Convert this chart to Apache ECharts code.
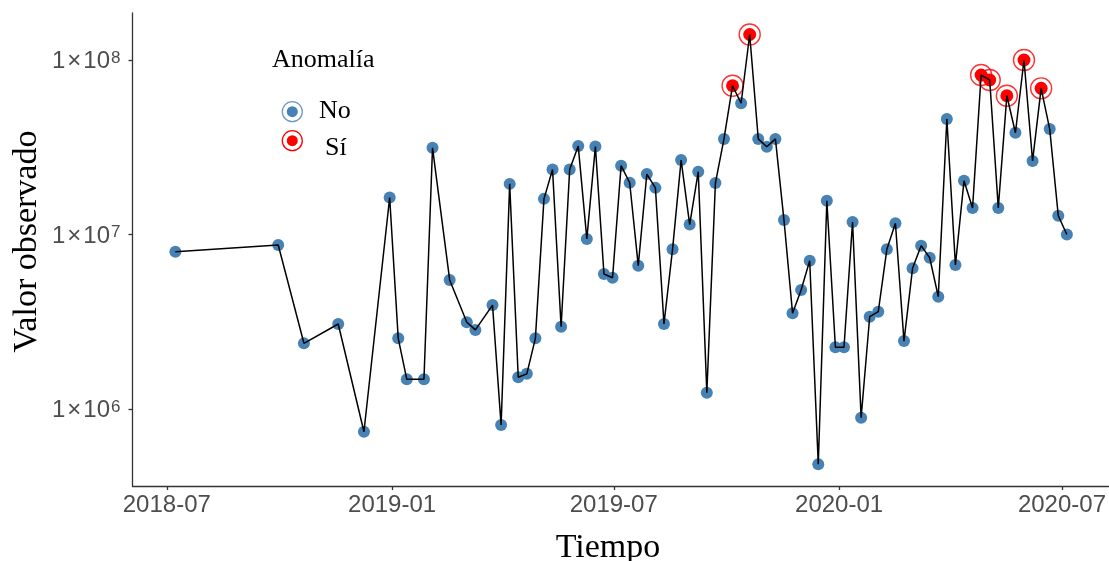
<!DOCTYPE html>
<html>
<head>
<meta charset="utf-8">
<script src="https://cdn.jsdelivr.net/npm/echarts@6/dist/echarts.min.js"></script>
<style>html,body{margin:0;padding:0;background:#fff;}#c{width:1109px;height:561px;}</style>
</head>
<body>
<div id="c"></div>
<script>
// ---- data ----
const dates = [
  '2018-07-08','2018-09-30','2018-10-21','2018-11-18','2018-12-09','2018-12-30',
  '2019-01-06','2019-01-13','2019-01-27','2019-02-03','2019-02-17','2019-03-03','2019-03-10',
  '2019-03-24','2019-03-31','2019-04-07','2019-04-14','2019-04-21','2019-04-28',
  '2019-05-05','2019-05-12','2019-05-19','2019-05-26','2019-06-02','2019-06-09','2019-06-16',
  '2019-06-23','2019-06-30','2019-07-07','2019-07-14','2019-07-21','2019-07-28','2019-08-04',
  '2019-08-11','2019-08-18','2019-08-25','2019-09-01','2019-09-08','2019-09-15','2019-09-22',
  '2019-09-29','2019-10-06','2019-10-13','2019-10-20','2019-10-27','2019-11-03','2019-11-10',
  '2019-11-17','2019-11-24','2019-12-01','2019-12-08','2019-12-15','2019-12-22','2019-12-29',
  '2020-01-05','2020-01-12','2020-01-19','2020-01-26','2020-02-02','2020-02-09','2020-02-16',
  '2020-02-23','2020-03-01','2020-03-08','2020-03-15','2020-03-22','2020-03-29','2020-04-05',
  '2020-04-12','2020-04-19','2020-04-26','2020-05-03','2020-05-10','2020-05-17','2020-05-24',
  '2020-05-31','2020-06-07','2020-06-14','2020-06-21','2020-06-28','2020-07-05'
];
const values = [
  7.97e6, 8.71e6, 2.38e6, 3.07e6, 7.41e5, 1.63e7,
  2.54e6, 1.48e6, 1.48e6, 3.14e7, 5.49e6, 3.14e6, 2.84e6,
  3.94e6, 8.09e5, 1.95e7, 1.52e6, 1.59e6, 2.54e6,
  1.60e7, 2.36e7, 2.96e6, 2.36e7, 3.21e7, 9.43e6, 3.19e7,
  5.94e6, 5.65e6, 2.48e7, 1.98e7, 6.63e6, 2.22e7, 1.85e7,
  3.07e6, 8.22e6, 2.67e7, 1.14e7, 2.29e7, 1.24e6, 1.97e7,
  3.53e7, 7.12e7, 5.65e7, 1.40e8, 3.53e7, 3.18e7, 3.53e7,
  1.21e7, 3.54e6, 4.81e6, 7.08e6, 4.82e5, 1.56e7, 2.26e6,
  2.26e6, 1.18e7, 8.92e5, 3.38e6, 3.61e6, 8.22e6, 1.16e7,
  2.45e6, 6.40e6, 8.63e6, 7.36e6, 4.40e6, 4.59e7, 6.69e6,
  2.03e7, 1.42e7, 8.20e7, 7.68e7, 1.42e7, 6.24e7, 3.83e7,
  1.00e8, 2.64e7, 6.88e7, 4.02e7, 1.28e7, 1.00e7
];
const anomalyDates = ['2019-10-06','2019-10-20','2020-04-26','2020-05-03','2020-05-17','2020-05-31','2020-06-14'];
const xTickLabels = ['2018-07','2019-01','2019-07','2020-01','2020-07'];
const yTickExponents = [6, 7, 8];
const legendTitle = 'Anomalía';
const legendLabels = ['No', 'Sí'];
const xTitle = 'Tiempo';
const yTitle = 'Valor observado';

// ---- helpers ----
function toTs(s) {
  const p = s.split('-').map(Number);
  return Date.UTC(p[0], p[1] - 1, p[2] || 1);
}
const BLUE = '#4682B4', RED = '#FF0000';
const allPts = dates.map((d, i) => [toTs(d), values[i]]);
const isAnom = d => anomalyDates.indexOf(d) >= 0;
const normalPts = dates.map((d, i) => [d, i]).filter(a => !isAnom(a[0])).map(a => allPts[a[1]]);
const anomPts = dates.map((d, i) => [d, i]).filter(a => isAnom(a[0])).map(a => allPts[a[1]]);
const xTicks = xTickLabels.map(toTs);
const yTicks = yTickExponents.map(e => Math.pow(10, e));

const chart = echarts.init(document.getElementById('c'), null, {renderer: 'canvas'});
const axisColor = '#333333', labelColor = '#4d4d4d';
chart.setOption({
  animation: false,
  backgroundColor: '#fff',
  grid: {left: 132.5, right: 0, top: 13, bottom: 75, containLabel: false},
  xAxis: {
    type: 'value',
    min: toTs('2018-06-03'), max: toTs('2020-08-08'),
    splitLine: {show: false},
    axisLine: {show: true, lineStyle: {color: axisColor, width: 1.3}},
    axisTick: {show: true, customValues: xTicks, length: 4, lineStyle: {color: axisColor, width: 1.3}},
    axisLabel: {
      customValues: xTicks, color: labelColor, fontSize: 24, fontFamily: 'Liberation Sans', margin: 7,
      formatter: v => { const d = new Date(v); return d.getUTCFullYear() + '-' + String(d.getUTCMonth() + 1).padStart(2, '0'); }
    }
  },
  yAxis: {
    type: 'log', logBase: 10,
    min: Math.pow(10, 5.5587), max: Math.pow(10, 8.2693),
    splitLine: {show: false},
    axisLine: {show: true, lineStyle: {color: axisColor, width: 1.3}},
    axisTick: {show: true, customValues: yTicks, length: 4, lineStyle: {color: axisColor, width: 1.3}},
    axisLabel: {
      customValues: yTicks, margin: 12, padding: [3, 0, 0, 0],
      formatter: v => { const e = v > 100 ? Math.round(Math.log10(v)) : Math.round(v); return '{a|1\u200a×\u200a10}{b|' + e + '}'; },
      rich: {
        a: {fontSize: 24, fontFamily: 'Liberation Sans', color: labelColor, lineHeight: 24, padding: [5, 0, 0, 0], verticalAlign: 'bottom'},
        b: {fontSize: 17, fontFamily: 'Liberation Sans', color: labelColor, lineHeight: 17, verticalAlign: 'top', padding: [0, 0, 0, 1]}
      }
    }
  },
  series: [
    {type: 'scatter', data: anomPts, symbol: 'circle', symbolSize: 21, z: 1, silent: true,
     itemStyle: {color: 'rgba(0,0,0,0)', borderColor: RED, borderWidth: 1.4}},
    {type: 'scatter', data: normalPts, symbol: 'circle', symbolSize: 12, z: 2, itemStyle: {color: BLUE, opacity: 1}},
    {type: 'scatter', data: anomPts, symbol: 'circle', symbolSize: 13, z: 2, itemStyle: {color: RED, opacity: 1}},
    {type: 'line', data: allPts, showSymbol: false, symbol: 'none', z: 3,
     lineStyle: {color: '#000', width: 1.5}}
  ],
  graphic: [
    {type: 'text', x: 272, y: 60, style: {text: legendTitle, font: '26px "Liberation Serif"', fill: '#000', verticalAlign: 'middle'}},
    {type: 'circle', shape: {cx: 292.3, cy: 111.7, r: 10}, style: {fill: 'none', stroke: '#6b9ac4', lineWidth: 1.3}},
    {type: 'circle', shape: {cx: 292.3, cy: 111.7, r: 5.5}, style: {fill: BLUE}},
    {type: 'text', x: 319, y: 111, style: {text: legendLabels[0], font: '26px "Liberation Serif"', fill: '#000', verticalAlign: 'middle'}},
    {type: 'circle', shape: {cx: 292.3, cy: 140.7, r: 10}, style: {fill: 'none', stroke: RED, lineWidth: 1.3}},
    {type: 'circle', shape: {cx: 292.3, cy: 140.7, r: 5.5}, style: {fill: RED}},
    {type: 'text', x: 325, y: 148, style: {text: legendLabels[1], font: '26px "Liberation Serif"', fill: '#000', verticalAlign: 'middle'}},
    {type: 'text', x: 608, y: 548, style: {text: xTitle, font: '34px "Liberation Serif"', fill: '#000', align: 'center', verticalAlign: 'middle'}},
    {type: 'text', x: 27, y: 241.5, rotation: Math.PI / 2, style: {text: yTitle, font: '34px "Liberation Serif"', fill: '#000', align: 'center', verticalAlign: 'middle'}}
  ]
});
</script>
</body>
</html>
